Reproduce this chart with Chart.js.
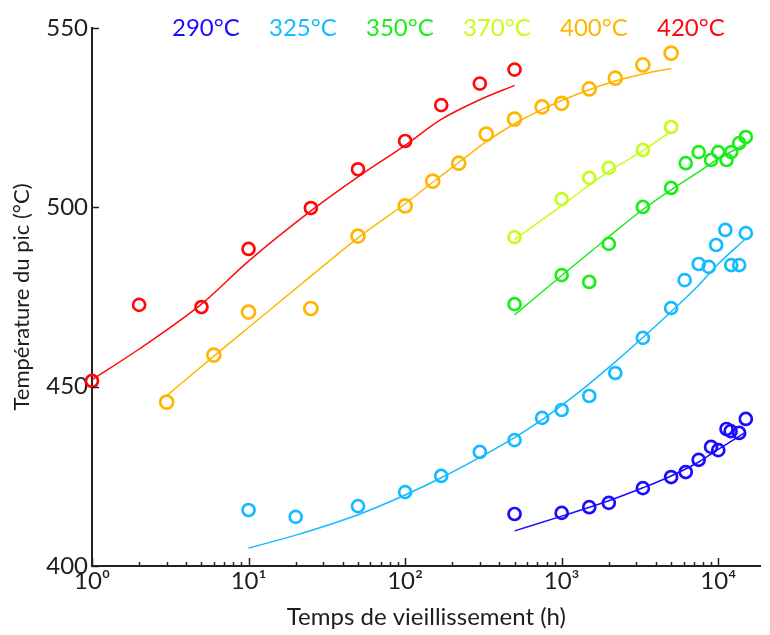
<!DOCTYPE html>
<html>
<head>
<meta charset="utf-8">
<script src="https://cdn.jsdelivr.net/npm/chart.js@4"></script>
<style>
  body { margin: 0; background: #fff; }
  #wrap { width: 770px; height: 635px; }
</style>
</head>
<body>
<div id="wrap"><canvas id="grafico"></canvas></div>
<script>
// temps de vieillissement (h) et températures du pic (°C)
const x290 = [500, 1000, 1500, 2000, 3300, 5000, 6200, 7500, 9000, 10000, 11300, 12000, 13600, 15000]
const y290 = [414.5, 414.8, 416.4, 417.6, 421.7, 424.8, 426.2, 429.6, 433.2, 432.3, 438.2, 437.6, 437.1, 441]
const x325 = [10, 20, 50, 100, 170, 300, 500, 750, 1000, 1500, 2200, 3300, 5000, 6100, 7500, 8700, 9700, 11100, 12100, 13600, 15000]
const y325 = [415.6, 413.7, 416.7, 420.6, 425.1, 431.8, 435.1, 441.3, 443.5, 447.4, 453.8, 463.6, 471.9, 479.7, 484.2, 483.4, 489.5, 493.7, 483.9, 483.9, 492.8]
const x350 = [500, 1000, 1500, 2000, 3300, 5000, 6200, 7500, 9000, 10000, 11300, 12100, 13600, 15000]
const y350 = [473, 481.1, 479.2, 489.8, 500.1, 505.4, 512.3, 515.4, 513.2, 515.4, 513.2, 515.4, 517.9, 519.6]
const x370 = [500, 1000, 1500, 2000, 3300, 5000]
const y370 = [491.7, 502.3, 508.2, 511, 516, 522.4]
const x400 = [3, 6, 10, 25, 50, 100, 150, 220, 330, 500, 750, 1000, 1500, 2200, 3300, 5000]
const y400 = [445.7, 458.8, 470.8, 471.8, 492, 500.4, 507.3, 512.3, 520.4, 524.6, 528, 529, 533, 536, 539.7, 543]
const x420 = [1, 2, 5, 10, 25, 50, 100, 170, 300, 500]
const y420 = [451.6, 472.8, 472.2, 488.4, 499.8, 510.6, 518.5, 528.5, 534.5, 538.4]

// courbes d'ajustement
const fx290 = [500, 1000, 2000, 3300, 5000, 7500, 10000, 15000]
const fy290 = [409.8, 413.9, 418.2, 421.8, 425.1, 429, 432.5, 437.3]
const fx325 = [10, 20, 50, 100, 170, 300, 500, 750, 1000, 1500, 2200, 3300, 5000, 7500, 10000, 15000]
const fy325 = [405, 408.6, 414.3, 419.8, 424.6, 430.3, 435.8, 440.8, 444.8, 450.8, 456.9, 463.7, 470.9, 478.3, 484.2, 491.3]
const fx350 = [500, 1000, 2000, 3300, 5000, 7500, 10000, 15000]
const fy350 = [470, 481, 491.8, 499.4, 504.9, 509.9, 513.5, 517.7]
const fx370 = [500, 1000, 2000, 3300, 5000]
const fy370 = [491, 500.5, 510, 515.8, 521.2]
const fx400 = [3, 6, 10, 25, 50, 100, 150, 220, 330, 500, 750, 1000, 1500, 2200, 3300, 5000]
const fy400 = [447.5, 458.5, 466.5, 480.8, 491.5, 501, 507, 512.5, 518.3, 523.3, 527.3, 529.8, 532.8, 535.2, 537.2, 538.7]
const fx420 = [1, 2, 5, 10, 25, 50, 100, 170, 300, 500]
const fy420 = [451.9, 460.5, 473, 485, 499, 508.5, 517.3, 524.5, 530, 534]

const series = ['290°C', '325°C', '350°C', '370°C', '400°C', '420°C']
const couleurs = ['#1a0cff', '#14bcff', '#18ee18', '#c4ff1a', '#ffb600', '#ff0a0a']

const yTicks = [400, 450, 500, 550]
const xMin = 1
const xMax = 18700

function paires(xs, ys) {
    return xs.map((x, i) => ({ x: x, y: ys[i] }))
}

const points = [[x290, y290], [x325, y325], [x350, y350], [x370, y370], [x400, y400], [x420, y420]]
const ajustements = [[fx290, fy290], [fx325, fy325], [fx350, fy350], [fx370, fy370], [fx400, fy400], [fx420, fy420]]

const datasets = []
ajustements.forEach((s, i) => {
    datasets.push({
        type: 'line',
        label: 'fit ' + series[i],
        data: paires(s[0], s[1]),
        borderColor: couleurs[i],
        borderWidth: 1.5,
        pointRadius: 0,
        cubicInterpolationMode: 'monotone',
        fill: false,
        clip: false
    })
})
points.forEach((s, i) => {
    datasets.push({
        type: 'scatter',
        label: series[i],
        data: paires(s[0], s[1]),
        borderColor: couleurs[i],
        backgroundColor: 'rgba(0,0,0,0)',
        borderWidth: 2.7,
        pointRadius: i == 4 ? 6.5 : 6,
        pointHoverRadius: 6,
        clip: false
    })
})

// ticks du log: 1..9, 10..90, ...
const xTicks = []
for (let d = 1; d <= 10000; d *= 10) {
    for (let k = 1; k <= 9; k++) {
        if (d * k <= xMax) xTicks.push(d * k)
    }
}
const sup = { '0': '⁰', '1': '¹', '2': '²', '3': '³', '4': '⁴' }

// marques de graduation vers l'intérieur + légende texte en haut
const graduations = {
    id: 'graduations',
    afterDraw(chart) {
        const ctx = chart.ctx
        const area = chart.chartArea
        const sx = chart.scales.x
        const sy = chart.scales.y
        ctx.save()
        ctx.strokeStyle = '#222'
        ctx.lineWidth = 1.5
        xTicks.forEach(v => {
            const p = Math.round(sx.getPixelForValue(v)) + 0.5
            const major = Math.log10(v) % 1 === 0
            ctx.beginPath()
            ctx.moveTo(p, area.bottom)
            ctx.lineTo(p, area.bottom - (major ? 8 : 4))
            ctx.stroke()
        })
        yTicks.forEach(v => {
            const p = Math.round(sy.getPixelForValue(v)) + 0.5
            ctx.beginPath()
            ctx.moveTo(area.left, p)
            ctx.lineTo(area.left + 7, p)
            ctx.stroke()
        })
        ctx.font = '24px Lato'
        ctx.textBaseline = 'middle'
        ctx.textAlign = 'left'
        series.forEach((s, i) => {
            ctx.fillStyle = couleurs[i]
            ctx.fillText(s, area.left + 80 + i * 97, area.top)
        })
        ctx.restore()
    }
}

Chart.defaults.font.family = 'Lato'
Chart.defaults.color = '#1e1e1e'

new Chart(document.getElementById('grafico'), {
    data: { datasets: datasets },
    options: {
        responsive: true,
        maintainAspectRatio: false,
        animation: false,
        layout: { padding: { top: 28, right: 0, left: 0, bottom: 0 } },
        plugins: {
            legend: { display: false },
            tooltip: { enabled: false }
        },
        scales: {
            x: {
                type: 'logarithmic',
                min: xMin,
                max: xMax,
                afterBuildTicks: (scale) => {
                    scale.ticks = xTicks.map(v => ({ value: v }))
                },
                afterFit: (scale) => { scale.height = 69 },
                grid: { display: false, drawTicks: false },
                border: { display: true, color: '#222', width: 2 },
                ticks: {
                    autoSkip: false,
                    maxRotation: 0,
                    padding: 1,
                    font: { size: 24 },
                    callback: (v) => {
                        const e = Math.log10(v)
                        if (Math.abs(e - Math.round(e)) > 1e-9) return ''
                        return '10' + sup[String(Math.round(e))]
                    }
                },
                title: {
                    display: true,
                    text: 'Temps de vieillissement (h)',
                    font: { size: 24 },
                    padding: { top: 0, bottom: 3 }
                }
            },
            y: {
                min: 400,
                max: 550,
                afterBuildTicks: (scale) => {
                    scale.ticks = yTicks.map(v => ({ value: v }))
                },
                afterFit: (scale) => { scale.width = 92 },
                grid: { display: false, drawTicks: false },
                border: { display: true, color: '#222', width: 2 },
                ticks: {
                    padding: 4,
                    font: { size: 24 }
                },
                title: {
                    display: true,
                    text: 'Température du pic (°C)',
                    font: { size: 22 },
                    padding: { top: 9, bottom: 0 }
                }
            }
        }
    },
    plugins: [graduations]
});
</script>
</body>
</html>
